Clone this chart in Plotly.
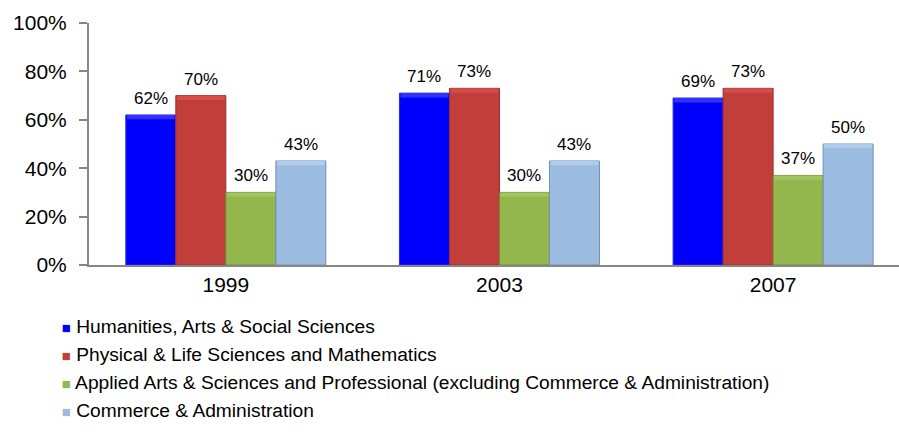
import plotly.graph_objects as go

# Survey years on the category axis
years = ["1999", "2003", "2007"]

# Share of respondents by field of study (fractions)
humanities = [0.62, 0.71, 0.69]
physical_life = [0.70, 0.73, 0.73]
applied_prof = [0.30, 0.30, 0.37]
commerce = [0.43, 0.43, 0.50]

series_names = [
    "Humanities, Arts & Social Sciences",
    "Physical & Life Sciences and Mathematics",
    "Applied Arts & Sciences and Professional (excluding Commerce & Administration)",
    "Commerce & Administration",
]
series_values = [humanities, physical_life, applied_prof, commerce]
fill_colors = ["#0000FF", "#C13E3B", "#93B74C", "#9BBBE1"]
edge_colors = ["#2A2AD0", "#9A2F2D", "#718D36", "#7690B2"]
bevel_colors = ["#3030FF", "#D04E4B", "#A3C560", "#B0CCEC"]

FONT = "Liberation Sans, Arial, sans-serif"
positions = list(range(len(years)))
BARGAP = 0.269
BEVEL = 0.018  # depth of the lit top edge, in axis units
n_series = len(series_values)
bar_w = (1 - BARGAP) / n_series

fig = go.Figure()
for k, (name, vals, fc, ec, bc) in enumerate(
    zip(series_names, series_values, fill_colors, edge_colors, bevel_colors)
):
    group = f"s{k}"
    fig.add_trace(
        go.Bar(
            name=name,
            x=positions,
            y=vals,
            offsetgroup=group,
            marker=dict(color=fc, line=dict(color=ec, width=1)),
            showlegend=False,
        )
    )
    # lighter strip along the top of each bar
    fig.add_trace(
        go.Bar(
            x=positions,
            y=[BEVEL] * len(vals),
            base=[v - BEVEL for v in vals],
            offsetgroup=group,
            width=bar_w * 0.96,
            marker=dict(color=bc, line=dict(width=0)),
            showlegend=False,
            hoverinfo="skip",
        )
    )
    # value labels above each bar
    offset = (k - (n_series - 1) / 2) * bar_w
    for p, v in zip(positions, vals):
        fig.add_annotation(
            x=p + offset,
            y=v,
            text=f"{v:.0%}",
            showarrow=False,
            yanchor="bottom",
            xanchor="center",
            yshift=5,
            font=dict(family=FONT, size=17, color="#000000"),
        )
    # legend entry with a small coloured square key
    fig.add_trace(
        go.Scatter(
            x=[None],
            y=[None],
            mode="lines",
            line=dict(width=0, color=fc),
            name=f'<span style="color:{fc};font-size:15px">■</span> {name}',
            showlegend=True,
        )
    )

fig.update_layout(
    width=899,
    height=445,
    margin=dict(l=89, r=0, t=23, b=180),
    paper_bgcolor="#FFFFFF",
    plot_bgcolor="#FFFFFF",
    barmode="group",
    bargap=BARGAP,
    bargroupgap=0,
    font=dict(family=FONT, size=18, color="#000000"),
    legend=dict(
        orientation="v",
        x=-0.083,
        xanchor="left",
        y=-0.172,
        yanchor="top",
        font=dict(family=FONT, size=19.2, color="#000000"),
        traceorder="normal",
        bgcolor="rgba(0,0,0,0)",
    ),
    showlegend=True,
)

fig.update_xaxes(
    range=[-0.5, 2.46],
    tickvals=positions,
    ticktext=years,
    showline=True,
    linecolor="#868686",
    linewidth=2,
    ticks="",
    showgrid=False,
    zeroline=False,
    tickfont=dict(family=FONT, size=21),
)

fig.update_yaxes(
    range=[0, 1],
    tickvals=[0, 0.2, 0.4, 0.6, 0.8, 1.0],
    tickformat=".0%",
    showline=True,
    linecolor="#868686",
    linewidth=2,
    ticks="outside",
    ticklen=8,
    tickwidth=2,
    tickcolor="#868686",
    ticklabelstandoff=8,
    showgrid=False,
    zeroline=False,
    tickfont=dict(family=FONT, size=21),
)

fig.write_html("out.html")
